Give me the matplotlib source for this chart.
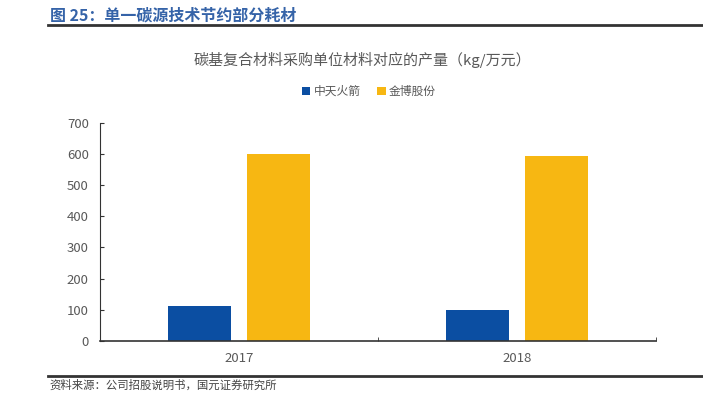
import numpy as np
import matplotlib
matplotlib.use("Agg")
import matplotlib.pyplot as plt
from matplotlib.lines import Line2D

plt.rcParams['font.family'] = ['Noto Sans CJK SC', 'DejaVu Sans']

# Data
years = ["2017", "2018"]
series = ["中天火箭", "金博股份"]
zhongtian = [112, 99]
jinbo = [601, 593]
colors = ["#0B4EA2", "#F7B712"]

fig = plt.figure(figsize=(7.03, 4.07), dpi=100)

# Header and footer
fig.text(0.071, 0.962, "图 25：单一碳源技术节约部分耗材", fontsize=11.5, fontweight="bold",
         color="#3563A8", va="center", ha="left")
fig.add_artist(Line2D([0.068, 1.0], [0.938, 0.938], color="#333333", lw=2))
fig.add_artist(Line2D([0.068, 1.0], [0.076, 0.076], color="#333333", lw=2))
fig.text(0.071, 0.053, "资料来源：公司招股说明书，国元证券研究所", fontsize=8.2,
         color="#444444", va="center", ha="left")

ax = fig.add_axes([0.1422, 0.1622, 0.7908, 0.5364])

x = np.arange(len(years))
w = 0.227
off = 0.142
ax.bar(x - off, zhongtian, w, color=colors[0], label=series[0])
ax.bar(x + off, jinbo, w, color=colors[1], label=series[1])

ax.set_xlim(-0.5, 1.5)
ax.set_ylim(0, 700)
ax.set_yticks(range(0, 701, 100))
ax.set_xticks(x)
ax.set_xticklabels(years)
ax.set_xticks([-0.5, 0.5, 1.5], minor=True)
ax.tick_params(axis="x", which="major", length=0, pad=8, labelsize=9.5, colors="#595959")
ax.tick_params(axis="x", which="minor", direction="in", length=3, color="#333333")
ax.tick_params(axis="y", direction="in", length=3, color="#333333", labelsize=9.5,
               labelcolor="#595959", pad=8)

for s in ["top", "right"]:
    ax.spines[s].set_visible(False)
ax.spines["left"].set_color("#333333")
ax.spines["bottom"].set_color("#333333")
ax.spines["bottom"].set_linewidth(1.2)

fig.text(0.515, 0.853, "碳基复合材料采购单位材料对应的产量（kg/万元）", fontsize=10.8,
         color="#595959", ha="center", va="center")
ax.legend(loc="center", bbox_to_anchor=(0.525, 0.775), bbox_transform=fig.transFigure,
          ncol=2, frameon=False, fontsize=8.5, handlelength=0.7, handleheight=0.7,
          handletextpad=0.3, columnspacing=1.4, labelcolor="#595959")

fig.savefig("out.png", dpi=100)
